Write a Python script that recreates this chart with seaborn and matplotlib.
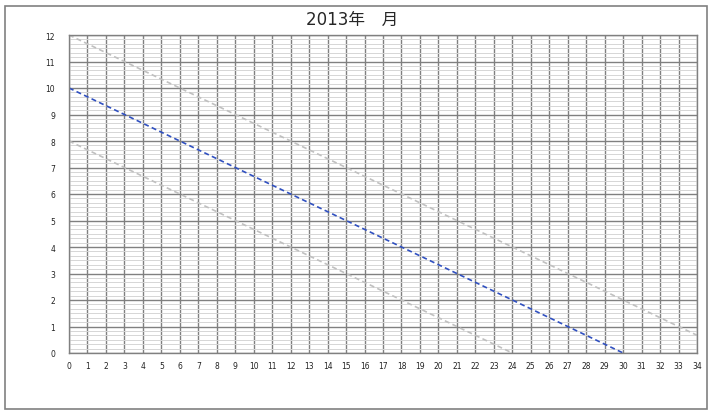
import numpy as np
import pandas as pd
import matplotlib
matplotlib.use('Agg')
import matplotlib.pyplot as plt
from matplotlib.patches import Rectangle
from matplotlib.ticker import MultipleLocator
import seaborn as sns

# Data
mid_x = [0, 3, 6, 9, 12, 15, 18, 21, 24, 27, 30]
mid_y = [10, 9, 8, 7, 6, 5, 4, 3, 2, 1, 0]
upper_x = [0, 3, 6, 9, 12, 15, 18, 21, 24, 27, 30, 33, 34]
upper_y = [12, 11, 10, 9, 8, 7, 6, 5, 4, 3, 2, 1, 0.67]
lower_x = [0, 3, 6, 9, 12, 15, 18, 21, 24]
lower_y = [8, 7, 6, 5, 4, 3, 2, 1, 0]
title = '2013年\u3000月'

sns.set_style('white')
plt.rcParams['font.family'] = ['DejaVu Sans', 'Noto Sans CJK JP']

fig = plt.figure(figsize=(7.12, 4.14), dpi=100)
ax = fig.add_axes([69 / 712, 1 - 354 / 414, (697 - 69) / 712, (354 - 36) / 414])

# outer chart frame
fig.patches.append(Rectangle((5 / 712, 4 / 414), 702 / 712, 403 / 414,
                             transform=fig.transFigure, fill=False,
                             edgecolor='#808080', linewidth=1.2))

ax.set_xlim(0, 34)
ax.set_ylim(0, 12)
ax.xaxis.set_major_locator(MultipleLocator(1))
ax.yaxis.set_major_locator(MultipleLocator(1))
ax.yaxis.set_minor_locator(MultipleLocator(1 / 6))
ax.grid(which='minor', axis='y', color='#d6d6d6', linewidth=0.7)
ax.grid(which='major', axis='both', color='#808080', linewidth=1.0)
ax.set_axisbelow(True)
for s in ax.spines.values():
    s.set_color('#808080')
    s.set_linewidth(1.0)

sns.lineplot(x=upper_x, y=upper_y, ax=ax, color='#c0c0c0', linewidth=1.2,
             linestyle=(0, (3, 2)))
sns.lineplot(x=lower_x, y=lower_y, ax=ax, color='#c0c0c0', linewidth=1.2,
             linestyle=(0, (3, 2)))
sns.lineplot(x=mid_x, y=mid_y, ax=ax, color='#3050c0', linewidth=1.2,
             linestyle=(0, (3, 2)))

ax.tick_params(axis='both', which='both', length=0, labelsize=5.5, colors='#222222')
ax.tick_params(axis='y', pad=10)
ax.tick_params(axis='x', pad=6)
ax.set_xlabel('')
ax.set_ylabel('')

fig.text(352 / 712, 1 - 20 / 414, title, ha='center', va='center', fontsize=12)

fig.savefig('out.png', dpi=100)
